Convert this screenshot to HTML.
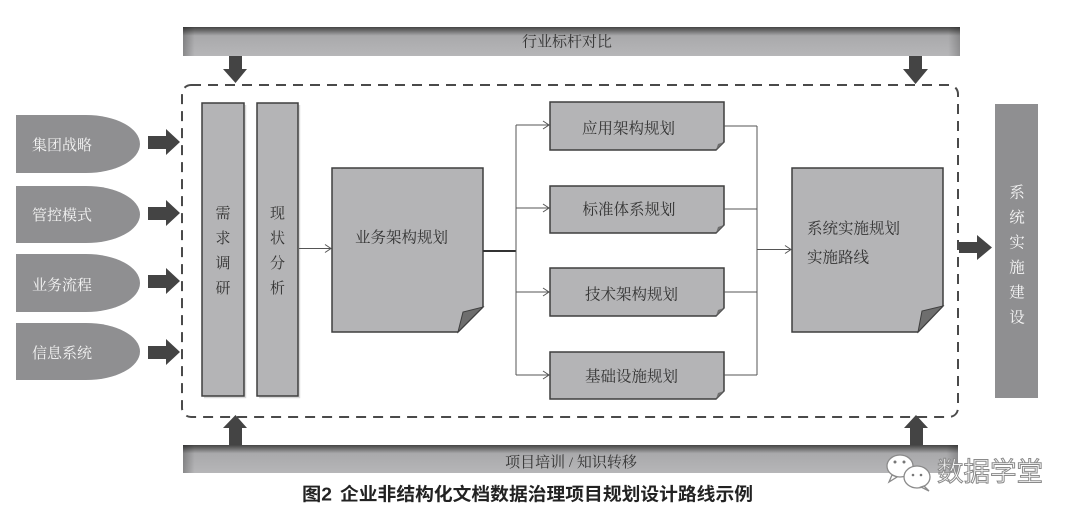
<!DOCTYPE html>
<html><head><meta charset="utf-8"><style>
html,body{margin:0;padding:0;background:#fff;}
svg{display:block;}
.s{font-family:"Liberation Serif","Noto Serif CJK SC",serif;}
</style></head><body>
<svg width="1080" height="523" viewBox="0 0 1080 523" xmlns="http://www.w3.org/2000/svg">
<defs>
<linearGradient id="bar" x1="0" y1="0" x2="0" y2="1">
<stop offset="0" stop-color="#454545"/>
<stop offset="0.12" stop-color="#6a6a6a"/>
<stop offset="0.3" stop-color="#a9a9ab"/>
<stop offset="1" stop-color="#b6b6b8"/>
</linearGradient>
<linearGradient id="barl" x1="0" y1="0" x2="1" y2="0">
<stop offset="0" stop-color="#000" stop-opacity="0.25"/>
<stop offset="0.015" stop-color="#000" stop-opacity="0"/>
<stop offset="0.985" stop-color="#000" stop-opacity="0"/>
<stop offset="1" stop-color="#000" stop-opacity="0.2"/>
</linearGradient>
</defs>

<!-- top bar -->
<rect x="183" y="27" width="777" height="29" fill="url(#bar)"/>
<rect x="183" y="27" width="777" height="29" fill="url(#barl)"/>
<text x="567" y="46.5" class="s" font-size="15" fill="#333" text-anchor="middle">行业标杆对比</text>

<!-- bottom bar -->
<rect x="183" y="445" width="775" height="28" fill="url(#bar)"/>
<rect x="183" y="445" width="775" height="28" fill="url(#barl)"/>
<text x="571" y="467" class="s" font-size="15" fill="#333" text-anchor="middle">项目培训 / 知识转移</text>

<!-- dashed container -->
<rect x="182" y="85" width="776" height="332" rx="9" ry="9" fill="none" stroke="#4a4a4a" stroke-width="2" stroke-dasharray="10 7"/>

<!-- vertical arrows -->
<g fill="#444">
<path d="M229,56 H242 V69 H247 L235.5,83 L223,69 H229 Z"/>
<path d="M909,56 H922 V69 H928 L915.5,84 L903,69 H909 Z"/>
<path d="M229,445 H242 V428 H247 L235.5,415 L223,428 H229 Z"/>
<path d="M910,445 H923 V428 H928 L916,415 L904,428 H910 Z"/>
</g>

<!-- left shapes -->
<g fill="#8f8f91">
<path d="M16,115 H86 A54,29 0 0 1 86,173 H16 Z"/>
<path d="M16,186 H86 A54,28.5 0 0 1 86,243 H16 Z"/>
<path d="M16,254 H86 A54,29 0 0 1 86,312 H16 Z"/>
<path d="M16,323 H86 A54,28.5 0 0 1 86,380 H16 Z"/>
</g>
<g class="s" font-size="15" fill="#f4f4f4">
<text x="32" y="150">集团战略</text>
<text x="32" y="220">管控模式</text>
<text x="32" y="290">业务流程</text>
<text x="32" y="358">信息系统</text>
</g>
<!-- left arrows -->
<g fill="#444">
<path d="M148,136 H166 V129 L180,142 L166,155 V149 H148 Z"/>
<path d="M148,207 H166 V200 L180,213 L166,226 V220 H148 Z"/>
<path d="M148,275 H166 V268 L180,281 L166,294 V288 H148 Z"/>
<path d="M148,346 H166 V339 L180,352 L166,365 V359 H148 Z"/>
</g>

<!-- tall rects -->
<g fill="#b4b4b6" stroke="#3f3f3f" stroke-width="1.5">
<rect x="202" y="103" width="42" height="293"/>
<rect x="257" y="103" width="41" height="293"/>
</g>
<g stroke="#000" stroke-opacity="0.15" stroke-width="1.5" fill="none">
<path d="M245.5,105 V397.5 H204"/>
<path d="M299.5,105 V397.5 H259"/>
</g>
<g class="s" font-size="15" fill="#333" text-anchor="middle">
<text x="223" y="218">需</text>
<text x="223" y="243">求</text>
<text x="223" y="268">调</text>
<text x="223" y="293">研</text>
<text x="277.5" y="218">现</text>
<text x="277.5" y="243">状</text>
<text x="277.5" y="268">分</text>
<text x="277.5" y="293">析</text>
</g>

<!-- connector 现状 -> 业务 -->
<g stroke="#555" stroke-width="1" fill="none">
<path d="M299,248.5 H331"/>
<path d="M325,244.5 L331,248.5 L325,252.5"/>
</g>

<!-- 业务架构规划 -->
<path d="M332,168 H483 V307 L458,332 H332 Z" fill="#b4b4b6" stroke="#3f3f3f" stroke-width="1.5"/>
<path d="M483,307 L458,332 L463,312 Z" fill="#6e6e6e" stroke="#3f3f3f" stroke-width="1"/>
<text x="401.5" y="242.5" class="s" font-size="15.5" fill="#333" text-anchor="middle">业务架构规划</text>

<!-- branch connectors -->
<path d="M483,251 H516" stroke="#333" stroke-width="2" fill="none"/>
<g stroke="#555" stroke-width="1" fill="none">
<path d="M516,125 V375"/>
<path d="M516,125 H549 M516,208 H549 M516,292 H549 M516,375 H549"/>
<path d="M543,121 L549,125 L543,129"/>
<path d="M543,204 L549,208 L543,212"/>
<path d="M543,288 L549,292 L543,296"/>
<path d="M543,371 L549,375 L543,379"/>
</g>

<!-- small boxes -->
<g fill="#b4b4b6" stroke="#3f3f3f" stroke-width="1.5">
<path d="M550,102 H724 V142 L716,150 H550 Z"/>
<path d="M550,186 H724 V225 L716,233 H550 Z"/>
<path d="M550,268 H724 V308 L716,316 H550 Z"/>
<path d="M550,352 H724 V391 L716,399 H550 Z"/>
</g>
<g fill="#6e6e6e">
<path d="M724,142 L716,150 L718,144 Z"/>
<path d="M724,225 L716,233 L718,227 Z"/>
<path d="M724,308 L716,316 L718,310 Z"/>
<path d="M724,391 L716,399 L718,393 Z"/>
</g>
<g class="s" font-size="15.5" fill="#333" text-anchor="middle">
<text x="628.5" y="133.5">应用架构规划</text>
<text x="629" y="214.5">标准体系规划</text>
<text x="631.5" y="299.5">技术架构规划</text>
<text x="631.5" y="381.5">基础设施规划</text>
</g>

<!-- merge connectors -->
<g stroke="#555" stroke-width="1" fill="none">
<path d="M724,126 H757 M724,209 H757 M724,292 H757 M724,375 H757"/>
<path d="M757,126 V375"/>
<path d="M757,249.5 H791"/>
<path d="M785,245.5 L791,249.5 L785,253.5"/>
</g>

<!-- 系统实施规划 -->
<path d="M792,168 H943 V306 L918,332 H792 Z" fill="#b4b4b6" stroke="#3f3f3f" stroke-width="1.5"/>
<path d="M943,306 L918,332 L922,311 Z" fill="#6e6e6e" stroke="#3f3f3f" stroke-width="1"/>
<g class="s" font-size="15.5" fill="#333">
<text x="807" y="233.5">系统实施规划</text>
<text x="807" y="262.5">实施路线</text>
</g>

<!-- right arrow -->
<path d="M959,242 H977 V235 L992,247.5 L977,260 V253 H959 Z" fill="#444"/>

<!-- 系统实施建设 -->
<rect x="995" y="104" width="43" height="294" fill="#8f8f91"/>
<g class="s" font-size="15.5" fill="#f6f6f6" text-anchor="middle">
<text x="1017" y="197.5">系</text>
<text x="1017" y="222.5">统</text>
<text x="1017" y="247.5">实</text>
<text x="1017" y="272.5">施</text>
<text x="1017" y="297.5">建</text>
<text x="1017" y="322.5">设</text>
</g>

<!-- caption -->
<g font-family="Liberation Sans,'Noto Sans CJK SC',sans-serif" font-weight="bold" font-size="18" fill="#222">
<text x="302" y="500.5" textLength="30" lengthAdjust="spacingAndGlyphs">图2</text>
<text x="340" y="500.5" textLength="413" lengthAdjust="spacingAndGlyphs">企业非结构化文档数据治理项目规划设计路线示例</text>
</g>

<!-- watermark -->
<g stroke="#8a8a8a" stroke-width="1.3" fill="#fff">
<ellipse cx="900" cy="466" rx="13" ry="11"/>
<path d="M892,475 L889,482 L897,477 Z"/>
<ellipse cx="917" cy="477" rx="13" ry="11"/>
<path d="M924,486 L929,491 L921,487 Z"/>
</g>
<g fill="#777">
<circle cx="895" cy="462" r="1.5"/><circle cx="904" cy="462" r="1.5"/>
<circle cx="913" cy="475" r="1.3"/><circle cx="921" cy="475" r="1.3"/>
</g>
<text x="937" y="481" font-family="Liberation Sans,'Noto Sans CJK SC',sans-serif" font-size="26.5" fill="#fff" stroke="#8a8a8a" stroke-width="1" textLength="106">数据学堂</text>
</svg>
</body></html>
